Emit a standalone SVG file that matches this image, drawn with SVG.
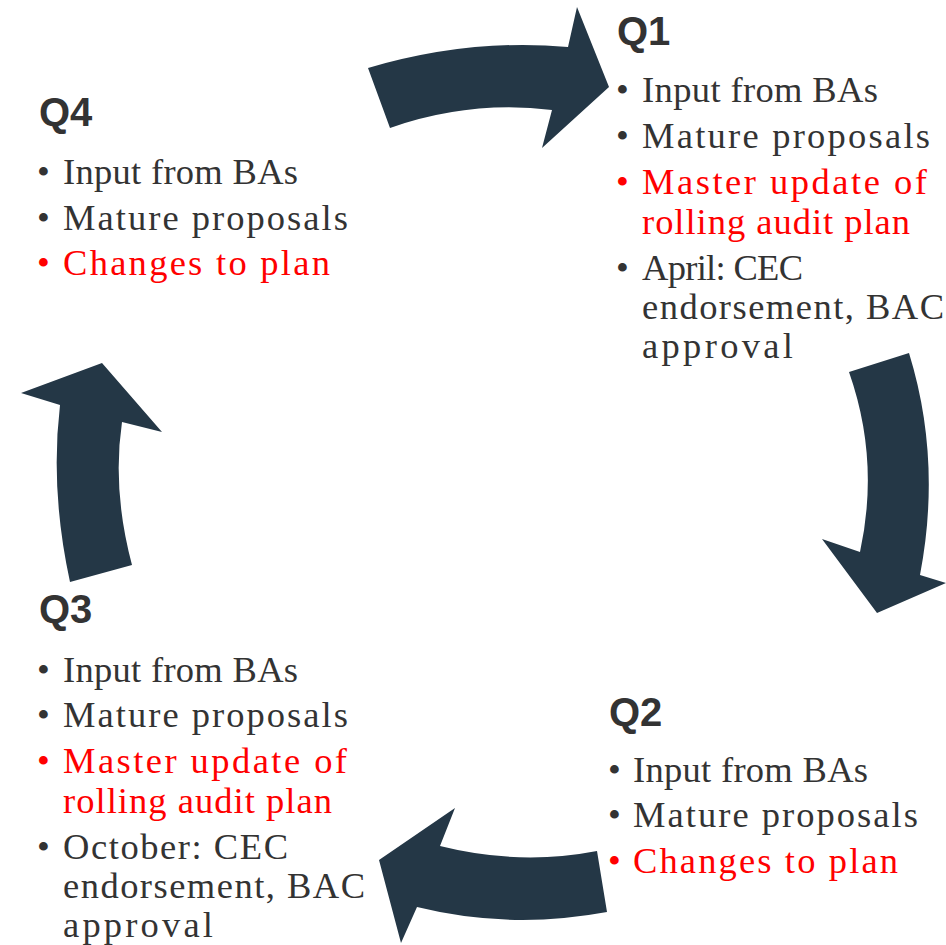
<svg xmlns="http://www.w3.org/2000/svg" width="946" height="945" viewBox="0 0 946 945">
<style>
.h{font-family:"Liberation Sans",Arial,sans-serif;font-size:40px;font-weight:bold;fill:#333333}
.t{font-family:"Liberation Serif","Times New Roman",serif;font-size:36.5px;fill:#333333}
.r{fill:#ff0000}
.arrow{fill:#243746}
</style>
<rect width="946" height="945" fill="#ffffff"/>
<g id="connectors">
<path class="arrow" d="M368,68 Q470,38 568,47 L577,7 L609,87 L542,148 L552,110 Q470,100 390,128 Z"/>
<path class="arrow" d="M849,372 Q880,460 860,552 L822,539 L877,613 L946,583 L920,575 Q942,460 909,353 Z"/>
<path class="arrow" d="M597,851 Q520,866 440,846 L455,808 L379,860 L401,943 L417,907 Q510,930 607,912 Z"/>
<path class="arrow" d="M70,582 Q50,490 60,405 L21,393 L102,363 L162,432 L122,422 Q112,490 132,565 Z"/>
</g>
<g id="q1">
<text class="h" x="617" y="45">Q1</text>
<text class="t" x="616" y="102">•</text><text class="t" x="642" y="102" textLength="236" lengthAdjust="spacing">Input from BAs</text>
<text class="t" x="616" y="148">•</text><text class="t" x="642" y="148" textLength="288" lengthAdjust="spacing">Mature proposals</text>
<text class="t r" x="616" y="194">•</text><text class="t r" x="642" y="194" textLength="285" lengthAdjust="spacing">Master update of</text>
<text class="t r" x="642" y="234" textLength="268" lengthAdjust="spacing">rolling audit plan</text>
<text class="t" x="616" y="280">•</text><text class="t" x="642" y="280" textLength="161" lengthAdjust="spacing">April: CEC</text>
<text class="t" x="642" y="319" textLength="302" lengthAdjust="spacing">endorsement, BAC</text>
<text class="t" x="642" y="358" textLength="151" lengthAdjust="spacing">approval</text>
</g>
<g id="q2">
<text class="h" x="609" y="726">Q2</text>
<text class="t" x="608" y="782">•</text><text class="t" x="633" y="782" textLength="235" lengthAdjust="spacing">Input from BAs</text>
<text class="t" x="608" y="827">•</text><text class="t" x="633" y="827" textLength="285" lengthAdjust="spacing">Mature proposals</text>
<text class="t r" x="608" y="873">•</text><text class="t r" x="633" y="873" textLength="265" lengthAdjust="spacing">Changes to plan</text>
</g>
<g id="q3">
<text class="h" x="39" y="623">Q3</text>
<text class="t" x="37" y="682">•</text><text class="t" x="63" y="682" textLength="235" lengthAdjust="spacing">Input from BAs</text>
<text class="t" x="37" y="727">•</text><text class="t" x="63" y="727" textLength="285" lengthAdjust="spacing">Mature proposals</text>
<text class="t r" x="37" y="773">•</text><text class="t r" x="63" y="773" textLength="284" lengthAdjust="spacing">Master update of</text>
<text class="t r" x="63" y="813" textLength="269" lengthAdjust="spacing">rolling audit plan</text>
<text class="t" x="37" y="859">•</text><text class="t" x="63" y="859" textLength="225" lengthAdjust="spacing">October: CEC</text>
<text class="t" x="63" y="898" textLength="302" lengthAdjust="spacing">endorsement, BAC</text>
<text class="t" x="63" y="937" textLength="150" lengthAdjust="spacing">approval</text>
</g>
<g id="q4">
<text class="h" x="39" y="126">Q4</text>
<text class="t" x="37" y="184">•</text><text class="t" x="63" y="184" textLength="235" lengthAdjust="spacing">Input from BAs</text>
<text class="t" x="37" y="230">•</text><text class="t" x="63" y="230" textLength="285" lengthAdjust="spacing">Mature proposals</text>
<text class="t r" x="37" y="275">•</text><text class="t r" x="63" y="275" textLength="267" lengthAdjust="spacing">Changes to plan</text>
</g>
</svg>
